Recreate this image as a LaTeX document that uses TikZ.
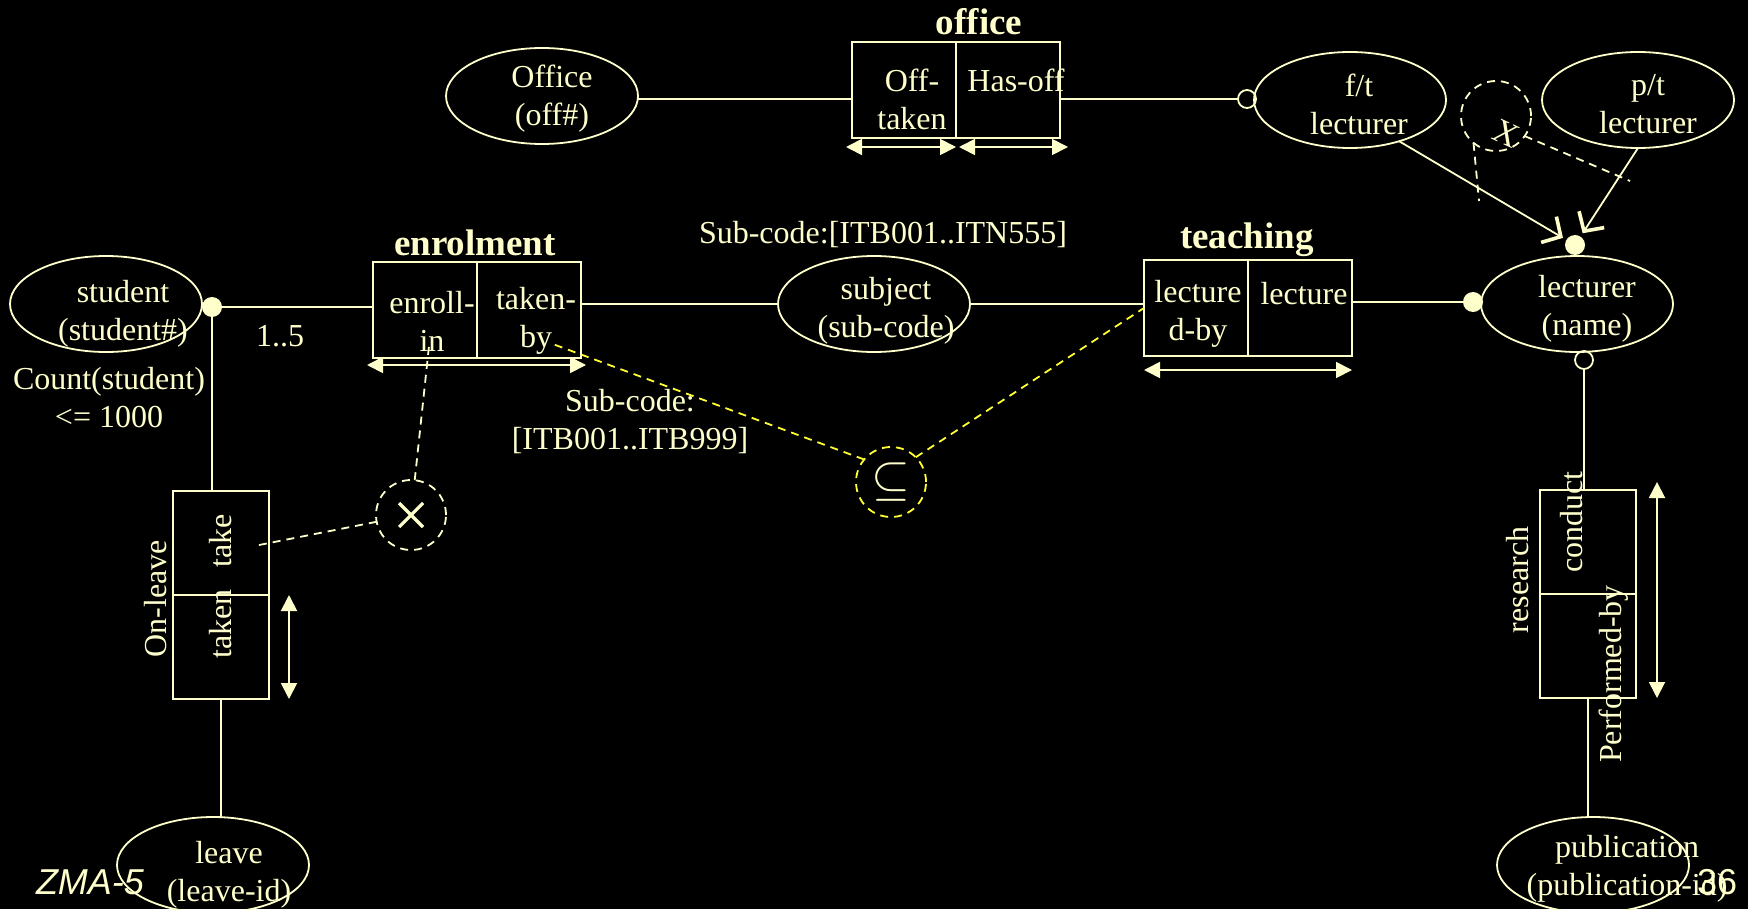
\documentclass[tikz,border=0pt]{standalone}
\usepackage{fontspec}
\setmainfont{Liberation Serif}
\newfontfamily\slidesans{Liberation Sans}
\usetikzlibrary{arrows.meta, shapes, positioning}
\definecolor{cream}{RGB}{255,255,204}
\definecolor{ydash}{RGB}{255,255,51}

\begin{document}
\begin{tikzpicture}[x=0.5pt, y=-0.5pt, >={Triangle[length=8pt,width=8pt]},
	every node/.style={text=cream, font=\fontsize{16}{19}\selectfont, align=center, inner sep=0pt, outer sep=0pt},
	entity/.style={ellipse, draw=cream, line width=0.9pt, minimum width=96pt, minimum height=48pt},
	relhalf/.style={rectangle, draw=cream, line width=0.9pt, minimum width=52pt, minimum height=48pt},
	vrelhalf/.style={relhalf, minimum width=48pt, minimum height=52pt},
	boxtitle/.style={font=\bfseries\fontsize{18.5}{22}\selectfont},
	dotfill/.style={circle, fill=cream, minimum size=10pt},
	dotopen/.style={circle, draw=cream, line width=0.9pt, minimum size=9pt},
	xcirc/.style={circle, draw=cream, line width=0.9pt, dash pattern=on 4pt off 3pt, minimum size=35pt},
	tline/.style={draw=cream, line width=0.9pt},
	dline/.style={draw=cream, line width=0.9pt, dash pattern=on 4pt off 3pt},
	yline/.style={draw=ydash, line width=0.9pt, dash pattern=on 4pt off 3pt},
	xmark/.style={draw=cream, line width=1.6pt},
	isaarrow/.style={tline, -{Straight Barb[length=7pt,width=15pt,line width=1.8pt]}, shorten >=2pt},
	spanarrow/.style={tline, <->}]
	\fill[black] (0,0) rectangle (1748,909);
	\useasboundingbox (0,0) rectangle (1748,909);
	
	% office
	\node[boxtitle] (officeT) at (979,22) {office};
	\node[relhalf] (offL) at (904,90) {};
	\node[relhalf, right=0pt of offL] (offR) {};
	\node (offLtxt) at (912,99) {Off-\\taken};
	\node (offRtxt) at (1016,80) {Has-off};
	\node[entity] (officeE) at (542,96) {};
	\node (officeEtxt) at (552,99) {Office\\(off\#)};
	
	% lecturers
	\node[entity] (ft) at (1350,100) {};
	\node (fttxt) at (1359,104) {f/t\\lecturer};
	\node[entity] (pt) at (1638,100) {};
	\node (pttxt) at (1648,104) {p/t\\lecturer};
	\node[dotopen] (ftdot) at (1247,99) {};
	\node[xcirc] (ftpt) at (1496,116) {};
	\node[font=\fontsize{17}{17}\selectfont, rotate=-25] (ftptX) at (1506,134) {X};
	\node[entity] (lect) at (1577,304) {};
	\node (lecttxt) at (1587,309) {lecturer\\(name)};
	\node[dotfill] (isadot) at (1575,245) {};
	\node[dotfill] (lectdot) at (1473,302) {};
	\node[dotopen] (lectodot) at (1584,360) {};
	
	% teaching
	\node[boxtitle] (teachT) at (1247,240) {teaching};
	\node[relhalf] (teaL) at (1196,308) {};
	\node[relhalf, right=0pt of teaL] (teaR) {};
	\node (teaLtxt) at (1198,314) {lecture\\d-by};
	\node (teaRtxt) at (1304,294) {lecture};
	
	% subject
	\node[entity] (subj) at (874,304) {};
	\node (subjtxt) at (886,311) {subject\\(sub-code)};
	\node (subjcode) at (883,235) {Sub-code:[ITB001..ITN555]};
	
	% enrolment
	\node[boxtitle] (enrT) at (475,243) {enrolment};
	\node[relhalf] (enrL) at (425,310) {};
	\node[relhalf, right=0pt of enrL] (enrR) {};
	\node (enrLtxt) at (432,321) {enroll-\\in};
	\node (enrRtxt) at (536,321) {taken-\\by};
	\node (enrcode) at (630,422) {Sub-code:\\{[ITB001..ITB999]}};
	
	% student
	\node[entity] (stud) at (106,304) {};
	\node (studtxt) at (123,314) {student\\(student\#)};
	\node[dotfill] (studdot) at (212,307) {};
	\node (card) at (280,336) {1..5};
	\node (count) at (109,398) {Count(student)\\<= 1000};
	
	% on-leave
	\node[vrelhalf] (onlT) at (221,543) {};
	\node[vrelhalf, below=0pt of onlT] (onlB) {};
	\node[rotate=90] (onltxt) at (156,599) {On-leave};
	\node[rotate=90] (taketxt) at (221,541) {take};
	\node[rotate=90] (takentxt) at (221,624) {taken};
	\node[entity] (leave) at (213,865) {};
	\node (leavetxt) at (229,875) {leave\\(leave-id)};
	
	% research
	\node[vrelhalf] (resT) at (1588,542) {};
	\node[vrelhalf, below=0pt of resT] (resB) {};
	\node[rotate=90] (restxt) at (1518,580) {research};
	\node[rotate=90] (condtxt) at (1572,522) {conduct};
	\node[rotate=90] (perftxt) at (1614,674) {Performed-by};
	\node[entity] (pub) at (1593,865) {};
	\node (pubtxt) at (1627,869) {publication\\(publication-id)};
	
	% constraints
	\node[xcirc] (excl) at (411,515) {};
	\node[xcirc, draw=ydash, font=\fontsize{24}{24}\selectfont] (subset) at (891,482) {$\subseteq$};
	\coordinate (inpt) at (429,346);
	\coordinate (takept) at (254,546);
	\coordinate (bypt) at (550,343);
	\coordinate (ftcut) at (1479,201);
	\coordinate (ptcut) at (1630,181);
	
	\path[tline] (officeE.east |- ftdot) -- (offL.west |- ftdot)
	(offR.east |- ftdot) -- (ftdot)
	(studdot) -- (studdot -| enrL.west)
	(enrR.east |- subj.west) -- (subj.west)
	(subj.east) -- (subj.east -| teaL.west)
	(teaR.east |- lectdot) -- (lectdot)
	(studdot) -- (studdot |- onlT.north)
	(onlB.south) -- (onlB.south |- leave.north)
	(lectodot) -- (lectodot |- resT.north)
	(resB.south) -- (resB.south |- pub.north);
	
	\draw[isaarrow] (ft.-40) -- (isadot);
	\draw[isaarrow] (pt.south) -- (isadot);
	\path[dline] (ftpt.-130) -- (ftcut)
	(ftpt.-35) -- (ptcut)
	(excl) -- (inpt)
	(excl) -- (takept);
	\path[yline] (subset.140) -- (bypt)
	(subset.45) -- (teaL.west);
	\path[xmark] ([shift={(-12,-12)}]excl.center) -- ([shift={(12,12)}]excl.center)
	([shift={(-12,12)}]excl.center) -- ([shift={(12,-12)}]excl.center);
	
	\draw[spanarrow] ([xshift=-3pt,yshift=-4.5pt]offL.south west) -- ([yshift=-4.5pt]offL.south east);
	\draw[spanarrow] ([xshift=1.5pt,yshift=-4.5pt]offR.south west) -- ([xshift=4pt,yshift=-4.5pt]offR.south east);
	\draw[spanarrow] ([xshift=-3pt,yshift=-3.5pt]enrL.south west) -- ([xshift=2.5pt,yshift=-3.5pt]enrR.south east);
	\draw[spanarrow] ([yshift=-7pt]teaL.south west) -- ([yshift=-7pt]teaR.south east);
	\draw[spanarrow] ([xshift=10pt]onlB.north east) -- ([xshift=10pt]onlB.south east);
	\draw[spanarrow] ([xshift=10.5pt,yshift=4pt]resT.north east) -- ([xshift=10.5pt]resB.south east);
	
	\node[font=\slidesans\itshape\fontsize{18}{18}\selectfont] (zma) at (90,882) {ZMA-5};
	\node[font=\slidesans\fontsize{18}{18}\selectfont] (pageno) at (1717,882) {36};
\end{tikzpicture}
\end{document}
